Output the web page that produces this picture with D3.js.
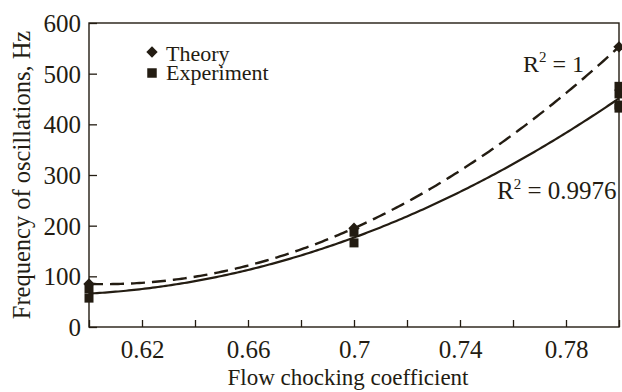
<!DOCTYPE html>
<html>
<head>
<meta charset="utf-8">
<script src="https://cdn.jsdelivr.net/npm/d3@7"></script>
<style>
  html, body { margin: 0; padding: 0; background: #fff; }
  svg { display: block; }
  text { font-family: "Liberation Serif", "Times New Roman", serif; fill: #231c12; }
</style>
</head>
<body>
<svg id="chart" width="622" height="392"></svg>
<script>
// Flow chocking coefficient vs. oscillation frequency
const theoryX = [0.6, 0.7, 0.8];
const theoryY = [85, 195, 553];

const experimentX = [0.6, 0.6, 0.7, 0.7, 0.8, 0.8, 0.8, 0.8];
const experimentY = [75, 57, 187, 166, 475, 460, 438, 432];

const xTicks = [0.6, 0.62, 0.64, 0.66, 0.68, 0.7, 0.72, 0.74, 0.76, 0.78, 0.8];
const xTickLabels = ["", "0.62", "", "0.66", "", "0.7", "", "0.74", "", "0.78", ""];
const yTicks = [0, 100, 200, 300, 400, 500, 600];

const legendLabels = ["Theory", "Experiment"];
const r2Labels = ["1", "0.9976"];

const ink = "#231c12";
const W = 622, H = 392;
const margin = { left: 89, right: 3, top: 23, bottom: 65 };

const svg = d3.select("#chart");

const x = d3.scaleLinear().domain([0.6, 0.8]).range([margin.left, W - margin.right]);
const y = d3.scaleLinear().domain([0, 600]).range([H - margin.bottom, margin.top]);

// Least-squares quadratic fit y = a + b*u + c*u^2, u centred for stability
function quadFit(xs, ys) {
  const x0 = 0.7;
  const S = Array.from({ length: 5 }, () => 0);
  const T = [0, 0, 0];
  xs.forEach((xv, i) => {
    const u = xv - x0;
    for (let k = 0; k < 5; k++) S[k] += Math.pow(u, k);
    for (let k = 0; k < 3; k++) T[k] += ys[i] * Math.pow(u, k);
  });
  const M = [
    [S[0], S[1], S[2], T[0]],
    [S[1], S[2], S[3], T[1]],
    [S[2], S[3], S[4], T[2]]
  ];
  for (let c = 0; c < 3; c++) {
    let p = c;
    for (let r = c + 1; r < 3; r++) if (Math.abs(M[r][c]) > Math.abs(M[p][c])) p = r;
    [M[c], M[p]] = [M[p], M[c]];
    for (let r = 0; r < 3; r++) {
      if (r === c) continue;
      const f = M[r][c] / M[c][c];
      for (let k = c; k < 4; k++) M[r][k] -= f * M[c][k];
    }
  }
  const coef = [M[0][3] / M[0][0], M[1][3] / M[1][1], M[2][3] / M[2][2]];
  return xv => { const u = xv - x0; return coef[0] + coef[1] * u + coef[2] * u * u; };
}

const theoryFit = quadFit(theoryX, theoryY);
const expFit = quadFit(experimentX, experimentY);
const samples = d3.range(0, 201).map(i => 0.6 + i * 0.001);

const line = f => d3.line().x(d => x(d)).y(d => y(f(d)));

// Frame
svg.append("rect")
  .attr("x", x(0.6)).attr("y", y(600))
  .attr("width", x(0.8) - x(0.6)).attr("height", y(0) - y(600))
  .attr("fill", "none").attr("stroke", ink).attr("stroke-width", 1.4);

// Axes with inward ticks
const xAxis = d3.axisBottom(x).tickValues(xTicks).tickSize(-7).tickPadding(13)
  .tickFormat((d, i) => xTickLabels[i]);
const gx = svg.append("g").attr("transform", `translate(0,${y(0)})`).call(xAxis);
gx.select(".domain").remove();
gx.selectAll(".tick line").attr("stroke", ink).attr("stroke-width", 1.3);
gx.selectAll(".tick text").attr("font-size", 25).attr("font-family", "Liberation Serif")
  .attr("fill", ink).attr("dy", "0.7em");

const yAxis = d3.axisLeft(y).tickValues(yTicks).tickSize(-8).tickPadding(8)
  .tickFormat(d3.format("d"));
const gy = svg.append("g").attr("transform", `translate(${x(0.6)},0)`).call(yAxis);
gy.select(".domain").remove();
gy.selectAll(".tick line").attr("stroke", ink).attr("stroke-width", 1.3);
gy.selectAll(".tick text").attr("font-size", 25).attr("font-family", "Liberation Serif")
  .attr("fill", ink).attr("dy", "0.34em");

// Axis titles
svg.append("text")
  .attr("x", 348).attr("y", 385)
  .attr("text-anchor", "middle").attr("font-size", 23)
  .text("Flow chocking coefficient");

svg.append("text")
  .attr("transform", "translate(30,175) rotate(-90)")
  .attr("text-anchor", "middle").attr("font-size", 24.5)
  .text("Frequency of oscillations, Hz");

// Trend lines
svg.append("path")
  .datum(samples)
  .attr("d", line(theoryFit))
  .attr("fill", "none").attr("stroke", ink).attr("stroke-width", 2.4)
  .attr("stroke-dasharray", "14,7");

svg.append("path")
  .datum(samples)
  .attr("d", line(expFit))
  .attr("fill", "none").attr("stroke", ink).attr("stroke-width", 2.2);

// Markers: filled squares and squares turned 45° as diamonds
const square = d3.symbol().type(d3.symbolSquare).size(81);
const diamond = d3.symbol().type(d3.symbolSquare).size(64);

svg.append("g").selectAll("path")
  .data(experimentX.map((xv, i) => [xv, experimentY[i]]))
  .join("path")
  .attr("d", square)
  .attr("transform", d => `translate(${x(d[0])},${y(d[1])})`)
  .attr("fill", ink);

svg.append("g").selectAll("path")
  .data(theoryX.map((xv, i) => [xv, theoryY[i]]))
  .join("path")
  .attr("d", diamond)
  .attr("transform", d => `translate(${x(d[0])},${y(d[1])}) rotate(45)`)
  .attr("fill", ink);

// Legend
const legend = svg.append("g");
legend.append("path").attr("d", diamond).attr("transform", "translate(152,52) rotate(45)").attr("fill", ink);
legend.append("path").attr("d", d3.symbol().type(d3.symbolSquare).size(90))
  .attr("transform", "translate(152,73)").attr("fill", ink);
legend.append("text").attr("x", 166).attr("y", 61).attr("font-size", 22).text(legendLabels[0]);
legend.append("text").attr("x", 166).attr("y", 80).attr("font-size", 22).text(legendLabels[1]);

// R² annotations
function r2Label(xp, yp, value, size) {
  const t = svg.append("text").attr("x", xp).attr("y", yp).attr("font-size", size);
  t.append("tspan").text("R");
  t.append("tspan").attr("font-size", 15).attr("dy", -10).text("2");
  t.append("tspan").attr("dy", 10).text(" = " + value);
}
r2Label(523, 72, r2Labels[0], 24);
r2Label(497, 199, r2Labels[1], 25);
</script>
</body>
</html>
